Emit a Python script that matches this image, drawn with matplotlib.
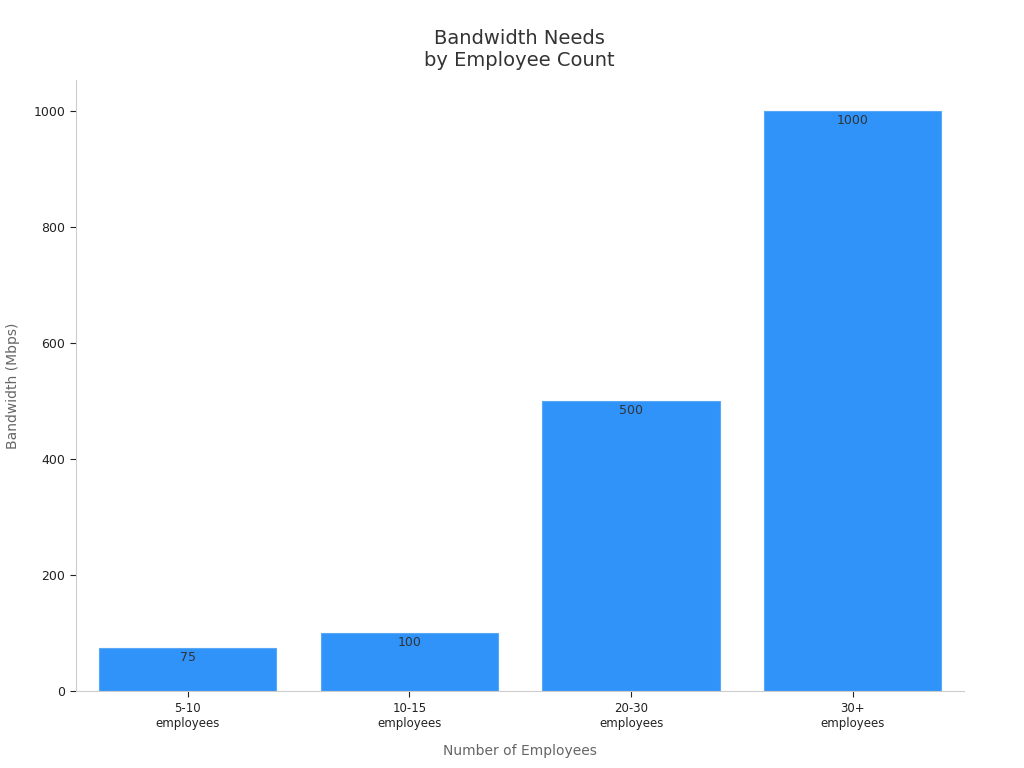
import matplotlib
matplotlib.use('Agg')
import matplotlib.pyplot as plt

categories = ['5-10\nemployees', '10-15\nemployees', '20-30\nemployees', '30+\nemployees']
bandwidth = [75, 100, 500, 1000]
yticks = [0, 200, 400, 600, 800, 1000]

plt.rcParams['font.family'] = ['DejaVu Sans']
fig, ax = plt.subplots(figsize=(10.24, 7.68), dpi=100)
fig.subplots_adjust(left=0.074, right=0.941, top=0.896, bottom=0.1)

x = range(len(categories))
bars = ax.bar(x, bandwidth, width=0.8, color='#2f93fa', edgecolor='#5aa8f5', linewidth=0.8)
for b, v in zip(bars, bandwidth):
    ax.text(b.get_x() + b.get_width() / 2, v - 5, str(v), ha='center', va='top',
            fontsize=9, color='#333333')

ax.set_xlim(-0.505, 3.5)
ax.set_ylim(0, 1053)
ax.set_xticks(list(x))
ax.set_xticklabels(categories, fontsize=8.5, color='#222222')
ax.set_yticks(yticks)
ax.tick_params(axis='y', labelsize=9, colors='#222222', length=4)
ax.tick_params(axis='x', length=4, colors='#222222')
for t in ax.get_xticklines() + ax.get_yticklines():
    t.set_color('#999999')
for s in ['top', 'right']:
    ax.spines[s].set_visible(False)
for s in ['left', 'bottom']:
    ax.spines[s].set_color('#cccccc')

ax.set_xlabel('Number of Employees', fontsize=10, color='#666666', labelpad=10)
ax.set_ylabel('Bandwidth (Mbps)', fontsize=10, color='#666666', labelpad=10)
ax.set_title('Bandwidth Needs\nby Employee Count', fontsize=14, color='#333333', pad=10)

plt.savefig('out.png', dpi=100)
